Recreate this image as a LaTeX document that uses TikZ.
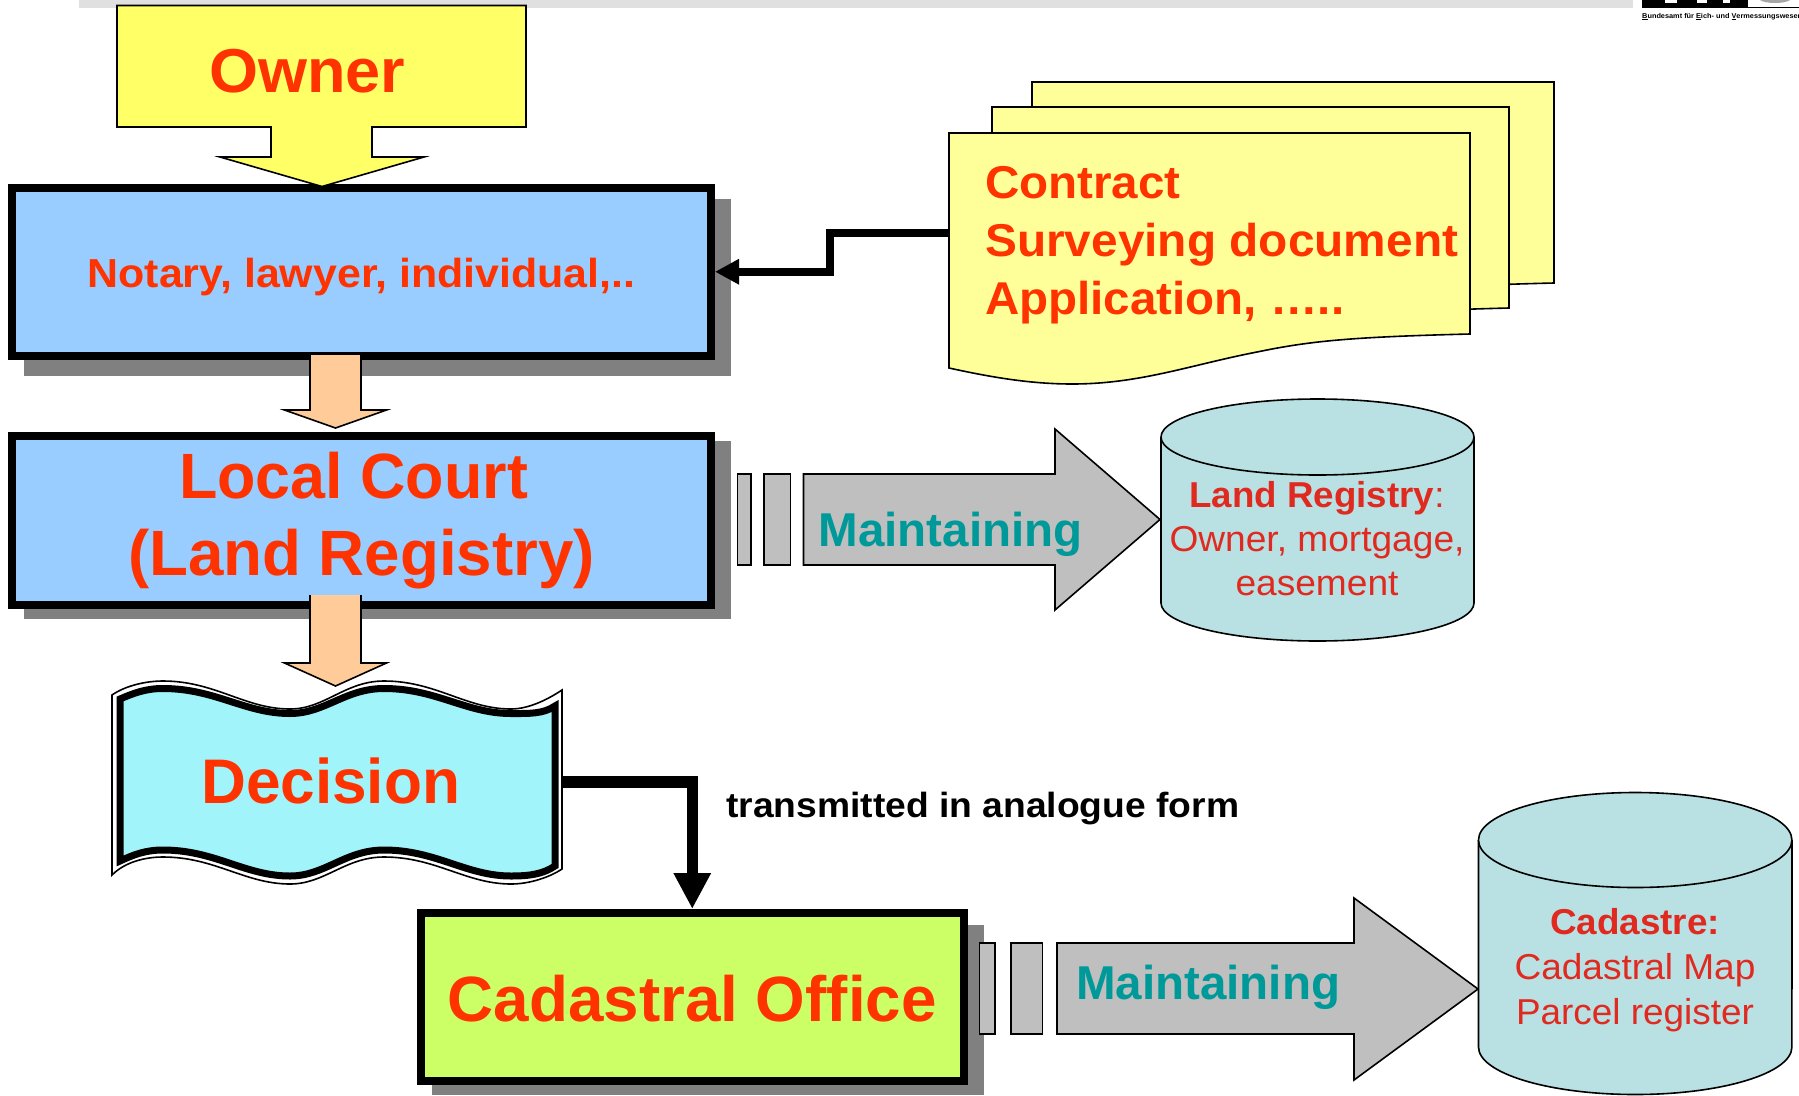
\documentclass[tikz,border=0pt]{standalone}
\usepackage{fontspec}
\usepackage{graphicx}
\setmainfont{Liberation Sans}
\usetikzlibrary{arrows.meta}
\definecolor{redtxt}{HTML}{FF3300}
\definecolor{dbtxt}{HTML}{E02A20}
\definecolor{tealtxt}{HTML}{009999}
\definecolor{boxblue}{HTML}{99CCFF}
\definecolor{ownyel}{HTML}{FFFF66}
\definecolor{docyel}{HTML}{FFFF99}
\definecolor{limefill}{HTML}{CCFF66}
\definecolor{wavecy}{HTML}{A2F4FB}
\definecolor{peach}{HTML}{FFCC99}
\definecolor{arrgrey}{HTML}{BFBFBF}
\definecolor{shadowgrey}{HTML}{808080}
\definecolor{cylfill}{HTML}{B9E0E3}
\definecolor{topbar}{HTML}{E0E0E0}
% set text on one line, scaled horizontally to a given width
\newcommand\fitw[2]{\setbox0=\hbox{#2}\pgfmathsetmacro\fitr{#1/\the\wd0}\scalebox{\fitr}[1]{\box0}}
\newcommand\fnt[2]{\fontsize{#1}{#2}\selectfont}
% wave edge, left to right and right to left
\newcommand\wavefwd[6]{(#1,#3) .. controls ({#1+13},{#4+5}) and (145,#4) .. (163,#4) .. controls (215,#4) and (245,#5) .. (290,#5) .. controls (325,#5) and (345,#4) .. (384,#4) .. controls (436,#4) and (466,#5) .. (511,#5) .. controls (530,#5) and ({#2-12},{#6+8}) .. (#2,#6)}
\newcommand\waverev[6]{(#2,#6) .. controls ({#2-12},{#6+8}) and (530,#5) .. (511,#5) .. controls (466,#5) and (436,#4) .. (384,#4) .. controls (345,#4) and (325,#5) .. (290,#5) .. controls (245,#5) and (215,#4) .. (163,#4) .. controls (145,#4) and ({#1+13},{#4+5}) .. (#1,#3)}
% document sheet, shifted
\newcommand\sheet[3]{\draw[thin line,fill=docyel,shift={(#1,#2)}] (949,133) -- (#3,133) -- (#3,334) .. controls (1350,337) and (1310,341) .. (1257,352) .. controls (1190,365) and (1140,384) .. (1072,384) .. controls (1030,384) and (990,377) .. (949,368) -- cycle;}
% grey block arrow: x0 neck yTop yBot headTop headBot tipx tipy
\newcommand\blockarrow[8]{\draw[thin line,fill=arrgrey,line join=miter] (#1,#3) -- (#2,#3) -- (#2,#5) -- (#7,#8) -- (#2,#6) -- (#2,#4) -- (#1,#4) -- cycle;}
% down block arrow: cx halfstem halfhead top neck tip fill
\newcommand\dnblock[7]{\draw[thin line,fill=#7,line join=miter] ({#1-#2},#4) -- ({#1-#2},#5) -- ({#1-#3},#5) -- (#1,#6) -- ({#1+#3},#5) -- ({#1+#2},#5) -- ({#1+#2},#4);}
\tikzset{
  x=1pt,y=-1pt,
  thin line/.style={draw=black,line width=1.6pt},
  bigbox/.style={draw=black,line width=8pt,inner sep=0pt,align=center},
  redbold/.style={text=redtxt,font=\bfseries,inner sep=0pt},
  dbtext/.style={text=dbtxt,inner sep=0pt,align=center},
  tealtext/.style={text=tealtxt,font=\bfseries,inner sep=0pt,anchor=base west},
  conn/.style={draw=black,line width=8pt,line join=miter},
}
\begin{document}
\begin{tikzpicture}
\useasboundingbox (0,0) rectangle (1799,1095);
% header strip
\fill[topbar] (79,0) rectangle (1633,8);
\fill[black] (1642,0) rectangle (1748,7.5);
\fill[white] (1665,0) rectangle (1677,3);
\fill[white] (1697,0) rectangle (1707,3);
\fill[white] (1723,0) rectangle (1730,3);
\draw[black,line width=.8pt] (1748,7.5) -- (1799,7.5);
\fill[gray!70] (1760,0) -- (1790,0) .. controls (1785,4) and (1765,4) .. cycle;
\node[anchor=base west,inner sep=0pt,font=\bfseries\fnt{7}{8}] (bev) at (1642,18) {\fitw{160}{\underline{B}undesamt für \underline{E}ich- und \underline{V}ermessungswesen}};

% shadows
\fill[shadowgrey] (24,199) rectangle (731,376);
\fill[shadowgrey] (24,441) rectangle (731,618.5);
\fill[shadowgrey] (432,925) rectangle (984,1095);

% boxes
\node[bigbox,fill=boxblue,minimum width=699pt,minimum height=167.5pt,text=redtxt,font=\bfseries\fnt{40.5}{48},text height=30.5pt,text depth=0pt] (notary) at (361.5,271.75) {\fitw{548}{Notary, lawyer, individual,..}};
\node[bigbox,fill=boxblue,minimum width=699pt,minimum height=169pt,text=redtxt,font=\bfseries\fnt{64}{77},yshift=-7pt] (court) at (361.5,513.5) {\fitw{349}{Local Court}\kern16pt\\\fitw{467}{(Land Registry)}};
\node[bigbox,fill=limefill,minimum width=542.5pt,minimum height=168pt,text=redtxt,font=\bfseries\fnt{64}{77},text height=48pt,text depth=0pt] (cad) at (692.25,997) {\fitw{489}{Cadastral Office}};

% decision wave
\draw[thin line,fill=white] \wavefwd{112}{562}{695}{681}{709}{690} -- \waverev{112}{562}{875}{857}{884}{869} -- cycle;
\draw[draw=black,line width=7pt,fill=wavecy,line join=miter] \wavefwd{120}{555}{699}{688.5}{713.5}{706} -- \waverev{120}{555}{861}{850}{876}{866} -- cycle;
\node[redbold,anchor=base west,font=\bfseries\fnt{63}{75}] (decision) at (201,803) {\fitw{259}{Decision}};

% owner block
\draw[thin line,fill=ownyel,line join=miter] (117,5.5) -- (526,5.5) -- (526,127) -- (372,127) -- (372,157) -- (424,157) -- (322,186.5) -- (220,157) -- (271,157) -- (271,127) -- (117,127) -- cycle;
\node[redbold,anchor=base west,font=\bfseries\fnt{62}{74}] (owner) at (209,92.5) {\fitw{196}{Owner}};

% peach arrows
\dnblock{335.5}{25.5}{51}{355}{410}{428}{peach}
\dnblock{335.5}{25.5}{51}{595}{663}{686}{peach}

% document stack
\sheet{83}{-51}{1471}
\sheet{43}{-26}{1466}
\sheet{0}{0}{1470}
\coordinate (docsw) at (949,232.7);
\coordinate (jog) at (830,250);
\node[redbold,anchor=base west,align=left,font=\bfseries\fnt{46}{58}] (docs) at (985,314) {\fitw{195.5}{Contract}\\\fitw{473}{Surveying document}\\\fitw{359}{Application, …..}};

% connectors
\draw[conn,-{Triangle[length=24pt,width=24pt]}] (docsw) -- (docsw -| jog) -- (jog |- notary.east) -- (notary.east);
\coordinate (decout) at (562,782);
\draw[conn,line width=11.5pt,-{Triangle[length=36pt,width=35pt]}] (decout) -| (cad.north);
\node[inner sep=0pt,anchor=base west,font=\bfseries\fnt{35}{42}] (xmit) at (726,817.5) {\fitw{513}{transmitted in analogue form}};

% maintaining arrows, first
\draw[thin line,fill=arrgrey] (737.5,474) rectangle (751,565);
\draw[thin line,fill=arrgrey] (764,474) rectangle (790.5,565);
\blockarrow{803.5}{1055}{474}{565}{429}{610}{1160}{519.5}
\node[tealtext,font=\bfseries\fnt{47.5}{57}] (maint1) at (818.5,546) {\fitw{264}{Maintaining}};
% second
\draw[thin line,fill=arrgrey] (979.5,943) rectangle (995,1034);
\draw[thin line,fill=arrgrey] (1011,943) rectangle (1042.5,1034);
\blockarrow{1057}{1354}{943}{1034}{898}{1080}{1478}{989}
\node[tealtext,font=\bfseries\fnt{47.5}{57}] (maint2) at (1076,999) {\fitw{264}{Maintaining}};

% cylinders
\draw[thin line,fill=cylfill] (1161,437) -- (1161,603) arc[start angle=180,end angle=0,x radius=156.5,y radius=38] -- (1474,437);
\draw[thin line,fill=cylfill] (1317.5,437) ellipse (156.5 and 38);
\node[dbtext,anchor=base,font=\fnt{36}{44}] (landreg) at (1317,595) {\fitw{255}{\textbf{Land Registry}:}\\\fitw{295}{Owner, mortgage,}\\\fitw{163}{easement}};
\draw[thin line,fill=cylfill] (1478.5,840) -- (1478.5,1047) arc[start angle=180,end angle=0,x radius=156.7,y radius=47.5] -- (1792,840);
\draw[thin line,fill=cylfill] (1635.2,840) ellipse (156.7 and 47.5);
\node[dbtext,anchor=base,font=\fnt{36}{45}] (cadastre) at (1635,1024) {\fitw{170}{\textbf{Cadastre:}}\\\fitw{241}{Cadastral Map}\\\fitw{238}{Parcel register}};
\end{tikzpicture}
\end{document}
